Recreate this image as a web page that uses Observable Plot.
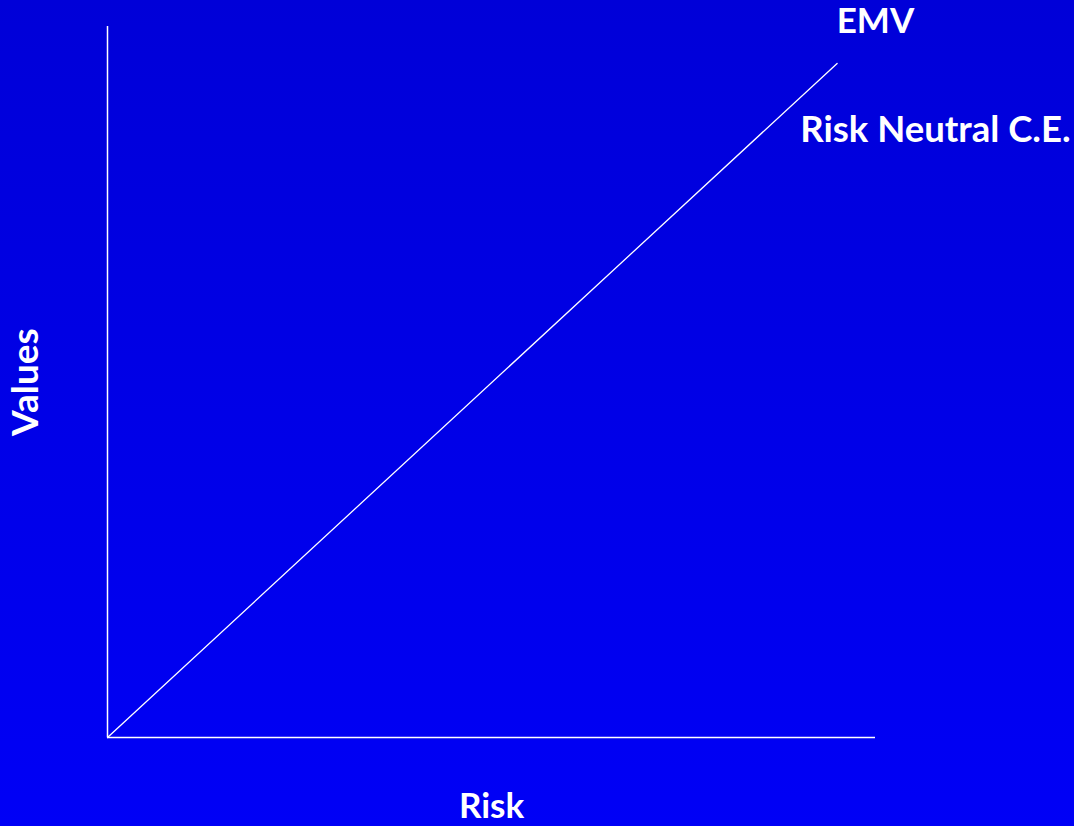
<!DOCTYPE html>
<html>
<head>
<meta charset="utf-8">
<script src="https://cdn.jsdelivr.net/npm/d3@7"></script>
<script src="https://cdn.jsdelivr.net/npm/@observablehq/plot@0.6"></script>
<style>
  html, body { margin: 0; padding: 0; background: #0000ee; }
  #chart svg { display: block; }
</style>
</head>
<body>
<div id="chart"></div>
<script>
// Risk-neutral certainty equivalent: value rises one-for-one with EMV
const risk = [0, 0.95];
const values = [0, 0.948];

// Line labels, placed in data units
const labelText = ["EMV", "Risk Neutral C.E."];
const labelX = [1.0, 0.902];
const labelY = [1.006, 0.854];
const labelAnchor = ["middle", "start"];

// Axis titles, placed in data units outside the frame
const axisTitles = [
  {text: "Values", x: -0.106, y: 0.5, rotate: -90},
  {text: "Risk", x: 0.5, y: -0.097, rotate: 0}
];

const line = risk.map((r, i) => ({risk: r, value: values[i]}));
const labels = labelText.map((t, i) => ({text: t, x: labelX[i], y: labelY[i], anchor: labelAnchor[i]}));

const font = "Lato, 'Open Sans', sans-serif";

const chart = Plot.plot({
  width: 1074,
  height: 826,
  marginLeft: 107,
  marginRight: 199,
  marginTop: 26,
  marginBottom: 89,
  x: {domain: [0, 1], axis: null},
  y: {domain: [0, 1], axis: null},
  style: {
    background: "linear-gradient(to bottom, #0000d8 0%, #0000f6 100%)",
    fontFamily: font,
    overflow: "visible"
  },
  marks: [
    Plot.ruleX([0], {y1: 0, y2: 1, stroke: "white", strokeWidth: 1.5}),
    Plot.ruleY([0], {x1: 0, x2: 1, stroke: "white", strokeWidth: 1.5}),
    Plot.line(line, {x: "risk", y: "value", stroke: "white", strokeWidth: 1.3}),
    Plot.text(labels.filter(d => d.anchor === "middle"), {
      x: "x", y: "y", text: "text", fill: "white",
      fontSize: 35, fontWeight: 700, textAnchor: "middle", clip: false
    }),
    Plot.text(labels.filter(d => d.anchor === "start"), {
      x: "x", y: "y", text: "text", fill: "white",
      fontSize: 36.5, fontWeight: 700, textAnchor: "start", clip: false
    }),
    Plot.text(axisTitles.filter(d => d.rotate !== 0), {
      x: "x", y: "y", text: "text", rotate: -90, fill: "white",
      fontSize: 37, fontWeight: 700, clip: false
    }),
    Plot.text(axisTitles.filter(d => d.rotate === 0), {
      x: "x", y: "y", text: "text", fill: "white",
      fontSize: 35, fontWeight: 700, clip: false
    })
  ]
});

document.getElementById("chart").appendChild(chart);
</script>
</body>
</html>
